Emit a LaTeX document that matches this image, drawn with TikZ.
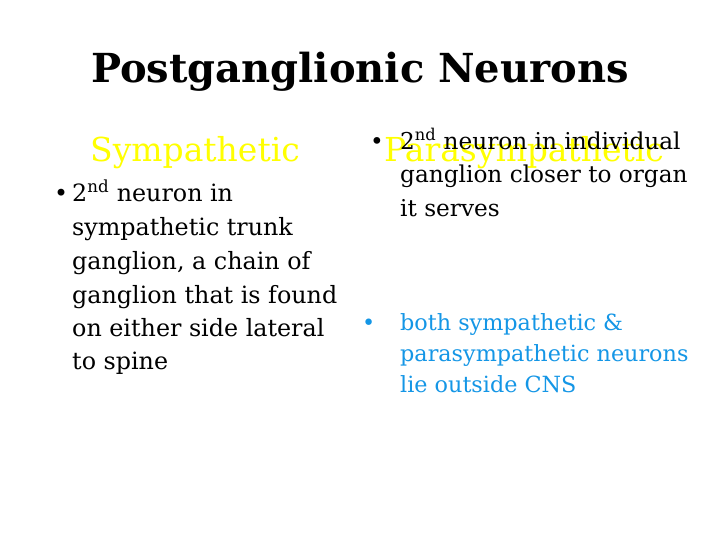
\documentclass[tikz,border=0pt]{standalone}
\usepackage{fontspec}
\setmainfont{DejaVu Serif}
\definecolor{yel}{RGB}{255,255,0}
\definecolor{bl}{RGB}{20,150,230}
\begin{document}
\begin{tikzpicture}[x=1pt,y=1pt,
  ln/.style={anchor=base west,inner sep=0pt,font=\fontsize{23.8}{23.8}\selectfont},
  rn/.style={anchor=base west,inner sep=0pt,font=\fontsize{22.3}{22.3}\selectfont},
  rk/.style={anchor=base west,inner sep=0pt,font=\fontsize{23.2}{23.2}\selectfont},
  hd/.style={anchor=base,inner sep=0pt,text=yel,font=\fontsize{33}{33}\selectfont}]
\useasboundingbox[fill=white] (0,0) rectangle (720,-540);
\node[anchor=base,inner sep=0pt,font=\fontsize{40}{40}\selectfont\bfseries] (t) at (360,-83) {Postganglionic Neurons};
\node[hd] (hs) at (195,-162) {Sympathetic};
\node[hd] (hp) at (524,-162) {Parasympathetic};
\node[ln] (b1) at (54,-202) {•};
\node[ln] (l1) at (72,-202) {2\textsuperscript{nd} neuron in};
\node[ln] (l2) at (72,-236) {sympathetic trunk};
\node[ln] (l3) at (72,-269) {ganglion, a chain of};
\node[ln] (l4) at (72,-303) {ganglion that is found};
\node[ln] (l5) at (72,-336) {on either side lateral};
\node[ln] (l6) at (72,-369) {to spine};
\node[rk] (b2) at (370,-150) {•};
\node[rk] (r1) at (400,-150) {2\textsuperscript{nd} neuron in individual};
\node[rk] (r2) at (400,-183) {ganglion closer to organ};
\node[rk] (r3) at (400,-216) {it serves};
\node[rn,text=bl] (b3) at (362,-330) {•};
\node[rn,text=bl] (r4) at (400,-330) {both sympathetic \&};
\node[rn,text=bl] (r5) at (400,-361) {parasympathetic neurons};
\node[rn,text=bl] (r6) at (400,-392) {lie outside CNS};
\end{tikzpicture}
\end{document}
